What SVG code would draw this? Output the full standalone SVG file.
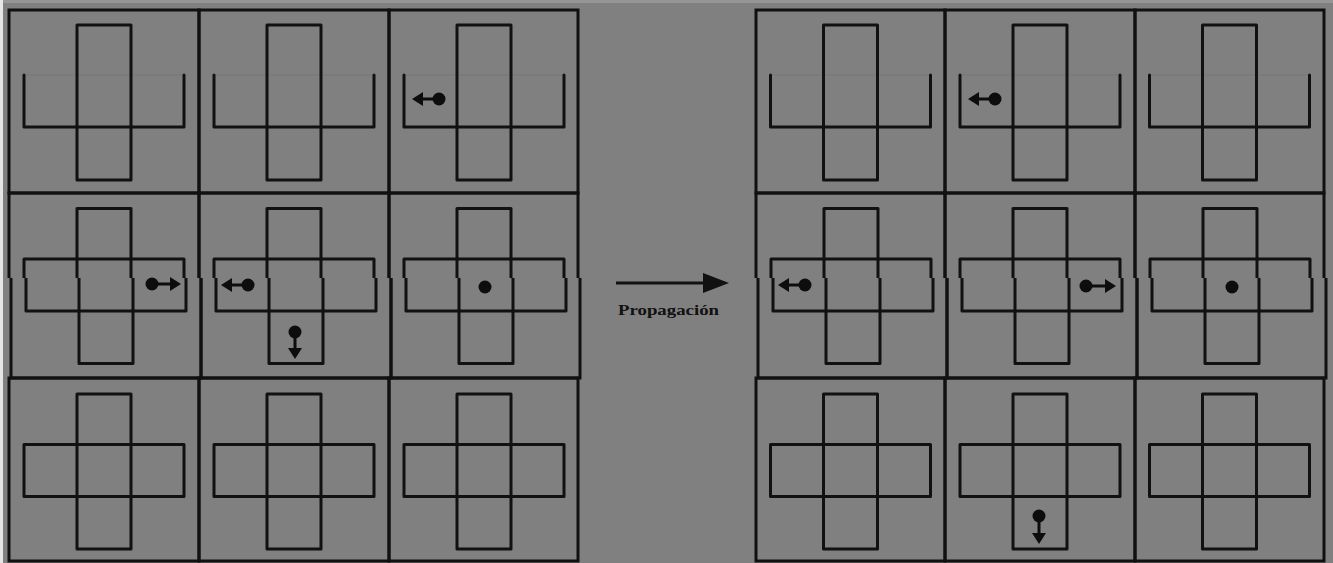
<svg xmlns="http://www.w3.org/2000/svg" xmlns:xlink="http://www.w3.org/1999/xlink" width="1333" height="563" viewBox="0 0 1333 563">
  <style>
    .ln { fill: none; stroke: #111; stroke-width: 3; stroke-linejoin: round; stroke-linecap: round; }
    .cell { fill: none; stroke: #111; stroke-width: 3; }
    .faint { fill: none; stroke: #777; stroke-width: 1; }
    .dot { fill: #0d0d0d; }
    .stem { stroke: #0d0d0d; stroke-width: 3; }
    .head { fill: #0d0d0d; }
    .label { font-family: "Liberation Serif", "Times New Roman", serif; font-weight: bold; font-size: 15px; fill: #111; }
  </style>
  <defs>
    <!-- open cross: vertical bar over a U-shaped arm -->
    <g id="cross-open">
      <path class="faint" d="M15 65H175"/>
      <rect class="ln" x="68" y="15" width="54" height="155"/>
      <path class="ln" d="M15 65V117H175V65"/>
    </g>
    <!-- closed cross: vertical bar over a horizontal bar -->
    <g id="cross-full">
      <rect class="ln" x="68" y="15.5" width="54" height="155"/>
      <rect class="ln" x="15" y="66" width="160" height="52"/>
    </g>
    <!-- middle row is split in two bands, the lower one slightly offset -->
    <clipPath id="bandTop"><rect x="0" y="180" width="1333" height="98"/></clipPath>
    <clipPath id="bandLow"><rect x="-10" y="278" width="1343" height="110"/></clipPath>
    <!-- middle-row cells, content only -->
    <g id="mid-L0"><rect class="cell" x="9" y="193" width="190" height="185"/><use xlink:href="#cross-full" transform="translate(9 193)"/></g>
    <g id="mid-L1"><rect class="cell" x="199" y="193" width="190" height="185"/><use xlink:href="#cross-full" transform="translate(199 193)"/></g>
    <g id="mid-L2"><rect class="cell" x="389" y="193" width="189" height="185"/><use xlink:href="#cross-full" transform="translate(389 193)"/></g>
    <g id="mid-R0"><rect class="cell" x="756" y="193" width="189" height="185"/><use xlink:href="#cross-full" transform="translate(756 193)"/></g>
    <g id="mid-R1"><rect class="cell" x="945" y="193" width="190" height="185"/><use xlink:href="#cross-full" transform="translate(945 193)"/></g>
    <g id="mid-R2"><rect class="cell" x="1135" y="193" width="189" height="185"/><use xlink:href="#cross-full" transform="translate(1135 193)"/></g>
  </defs>

  <!-- background -->
  <rect x="0" y="0" width="1333" height="563" fill="#808080"/>
  <rect x="0" y="0" width="1333" height="3" fill="#959595"/>
  <rect x="0" y="0" width="3" height="563" fill="#e6e6e6"/>

  <!-- ===== left grid ===== -->
  <g id="L-r0c0">
    <rect class="cell" x="9" y="10" width="190" height="183"/>
    <use xlink:href="#cross-open" transform="translate(9 10)"/>
  </g>
  <g id="L-r0c1">
    <rect class="cell" x="199" y="10" width="190" height="183"/>
    <use xlink:href="#cross-open" transform="translate(199 10)"/>
  </g>
  <g id="L-r0c2">
    <rect class="cell" x="389" y="10" width="189" height="183"/>
    <use xlink:href="#cross-open" transform="translate(389 10)"/>
    <line class="stem" x1="421" y1="99" x2="439" y2="99"/>
    <polygon class="head" points="412,99 423,92 423,106"/>
    <circle class="dot" cx="439" cy="99" r="6.5"/>
  </g>

  <g id="L-r1c0">
    <use xlink:href="#mid-L0" clip-path="url(#bandTop)"/>
    <use xlink:href="#mid-L0" clip-path="url(#bandLow)" transform="translate(2 0)"/>
    <line class="stem" x1="152" y1="284" x2="172" y2="284"/>
    <polygon class="head" points="181,284 170,277 170,291"/>
    <circle class="dot" cx="152" cy="284" r="6.5"/>
  </g>
  <g id="L-r1c1">
    <use xlink:href="#mid-L1" clip-path="url(#bandTop)"/>
    <use xlink:href="#mid-L1" clip-path="url(#bandLow)" transform="translate(2 0)"/>
    <line class="stem" x1="230" y1="285" x2="248" y2="285"/>
    <polygon class="head" points="221,285 232,278 232,292"/>
    <circle class="dot" cx="248" cy="285" r="6.5"/>
    <line class="stem" x1="295" y1="332" x2="295" y2="350"/>
    <polygon class="head" points="295,359 288,348 302,348"/>
    <circle class="dot" cx="295" cy="332" r="6.5"/>
  </g>
  <g id="L-r1c2">
    <use xlink:href="#mid-L2" clip-path="url(#bandTop)"/>
    <use xlink:href="#mid-L2" clip-path="url(#bandLow)" transform="translate(2 0)"/>
    <circle class="dot" cx="485" cy="287" r="6.5"/>
  </g>

  <g id="L-r2c0">
    <rect class="cell" x="9" y="378" width="190" height="183"/>
    <use xlink:href="#cross-full" transform="translate(9 378.5)"/>
  </g>
  <g id="L-r2c1">
    <rect class="cell" x="199" y="378" width="190" height="183"/>
    <use xlink:href="#cross-full" transform="translate(199 378.5)"/>
  </g>
  <g id="L-r2c2">
    <rect class="cell" x="389" y="378" width="189" height="183"/>
    <use xlink:href="#cross-full" transform="translate(389 378.5)"/>
  </g>

  <!-- ===== right grid ===== -->
  <g id="R-r0c0">
    <rect class="cell" x="756" y="10" width="189" height="183"/>
    <use xlink:href="#cross-open" transform="translate(755.5 10)"/>
  </g>
  <g id="R-r0c1">
    <rect class="cell" x="945" y="10" width="190" height="183"/>
    <use xlink:href="#cross-open" transform="translate(945 10)"/>
    <line class="stem" x1="977" y1="99" x2="995" y2="99"/>
    <polygon class="head" points="968,99 979,92 979,106"/>
    <circle class="dot" cx="995" cy="99" r="6.5"/>
  </g>
  <g id="R-r0c2">
    <rect class="cell" x="1135" y="10" width="189" height="183"/>
    <use xlink:href="#cross-open" transform="translate(1134.5 10)"/>
  </g>

  <g id="R-r1c0">
    <use xlink:href="#mid-R0" clip-path="url(#bandTop)"/>
    <use xlink:href="#mid-R0" clip-path="url(#bandLow)" transform="translate(2 0)"/>
    <line class="stem" x1="787" y1="285" x2="805" y2="285"/>
    <polygon class="head" points="778,285 789,278 789,292"/>
    <circle class="dot" cx="805" cy="285" r="6.5"/>
  </g>
  <g id="R-r1c1">
    <use xlink:href="#mid-R1" clip-path="url(#bandTop)"/>
    <use xlink:href="#mid-R1" clip-path="url(#bandLow)" transform="translate(2 0)"/>
    <line class="stem" x1="1086" y1="286" x2="1107" y2="286"/>
    <polygon class="head" points="1116,286 1105,279 1105,293"/>
    <circle class="dot" cx="1086" cy="286" r="6.5"/>
  </g>
  <g id="R-r1c2">
    <use xlink:href="#mid-R2" clip-path="url(#bandTop)"/>
    <use xlink:href="#mid-R2" clip-path="url(#bandLow)" transform="translate(2 0)"/>
    <circle class="dot" cx="1232" cy="287" r="6.5"/>
  </g>

  <g id="R-r2c0">
    <rect class="cell" x="756" y="378" width="189" height="183"/>
    <use xlink:href="#cross-full" transform="translate(755.5 378.5)"/>
  </g>
  <g id="R-r2c1">
    <rect class="cell" x="945" y="378" width="190" height="183"/>
    <use xlink:href="#cross-full" transform="translate(945 378.5)"/>
    <line class="stem" x1="1039" y1="516" x2="1039" y2="535"/>
    <polygon class="head" points="1039,544 1032,533 1046,533"/>
    <circle class="dot" cx="1039" cy="516" r="6.5"/>
  </g>
  <g id="R-r2c2">
    <rect class="cell" x="1135" y="378" width="189" height="183"/>
    <use xlink:href="#cross-full" transform="translate(1134.5 378.5)"/>
  </g>

  <!-- propagation arrow between the two grids -->
  <g id="connectors">
    <line x1="616" y1="283" x2="706" y2="283" stroke="#111" stroke-width="3"/>
    <polygon points="703,273 729,283 703,293" fill="#111"/>
    <text class="label" x="618" y="315" textLength="101" lengthAdjust="spacingAndGlyphs">Propagación</text>
  </g>
</svg>
